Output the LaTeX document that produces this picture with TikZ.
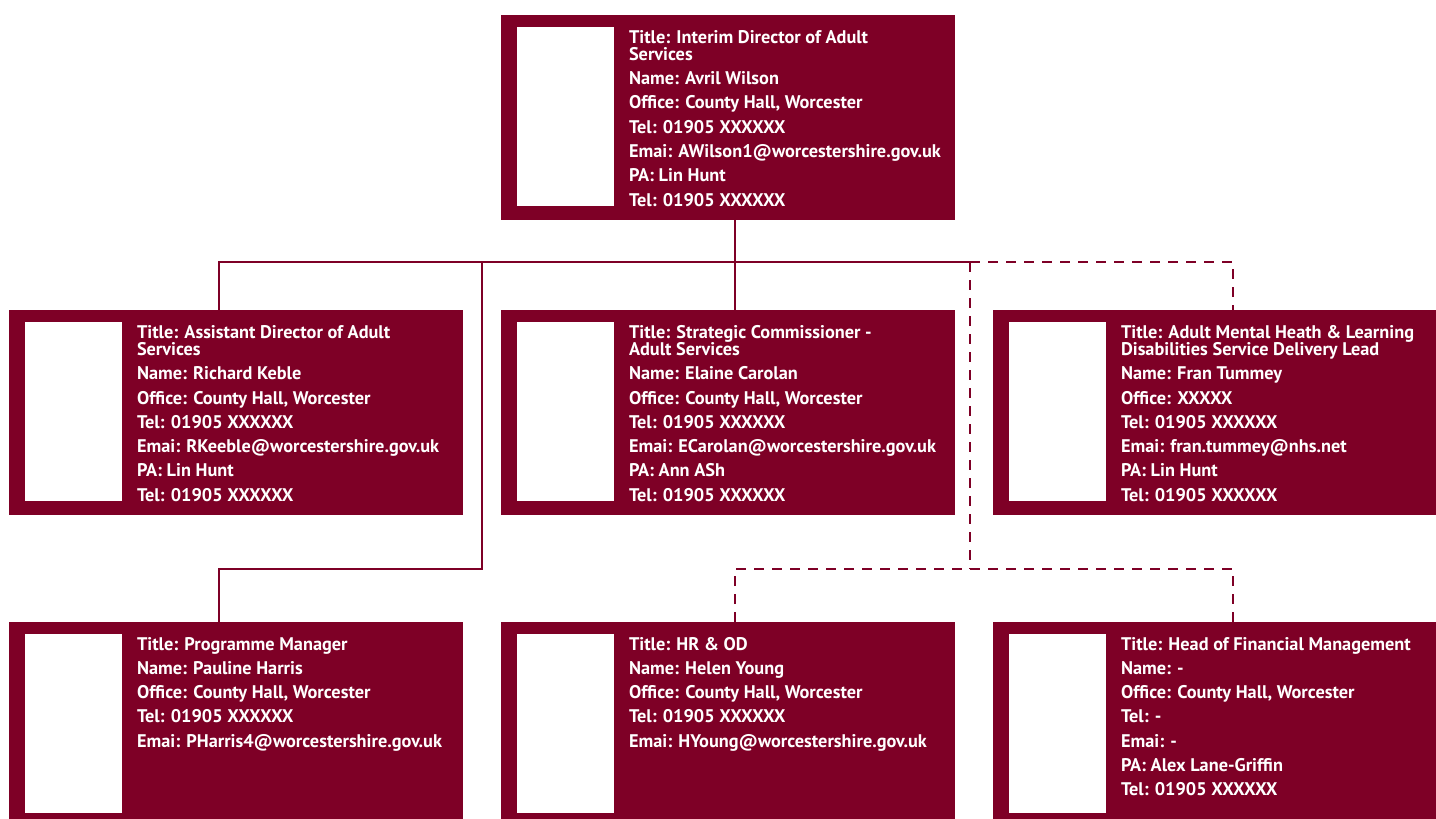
\documentclass[tikz,border=0pt]{standalone}
\usepackage{fontspec}
\setmainfont{PT Sans}
\definecolor{wine}{RGB}{126,0,38}
\newcommand\crow[1]{\hbox{#1}}
\newcommand\cwrap{\vskip-6.9pt}
\newcommand\cardtext[1]{\vtop{\baselineskip=24.3pt\lineskiplimit=-100pt\lineskip=0pt #1}}
\tikzset{
  card/.style={fill=wine, draw=none, anchor=north west, minimum width=454pt, minimum height=205pt, inner sep=0pt, outer sep=0pt},
  photo/.style={fill=white, draw=none, anchor=north west, minimum width=97pt, minimum height=179pt, inner sep=0pt, outer sep=0pt},
  txt/.style={text=white, anchor=base west, inner sep=0pt, outer sep=0pt, font=\bfseries\fontsize{18.3}{18.3}\selectfont},
  conn/.style={draw=wine, line width=2.5pt},
  dconn/.style={draw=wine, line width=2.7pt, dash pattern=on 10pt off 8pt},
}
\newcommand\card[4]{%
  \node[card] (#1) at (#2,#3) {};
  \node[photo] (#1p) at (#2+16,#3+12) {};
  \node[txt] (#1t) at (#2+128,#3+28) {\cardtext{#4}};
}
\begin{document}
\begin{tikzpicture}[x=1pt,y=-1pt]
\useasboundingbox (0,0) rectangle (1436,819);
\card{t}{501}{15}{\crow{Title: Interim Director of Adult}\cwrap\crow{Services}\crow{Name: Avril Wilson}\crow{Office: County Hall, Worcester}\crow{Tel: 01905 XXXXXX}\crow{Emai: AWilson1@worcestershire.gov.uk}\crow{PA: Lin Hunt}\crow{Tel: 01905 XXXXXX}}
\card{a}{9}{310}{\crow{Title: Assistant Director of Adult}\cwrap\crow{Services}\crow{Name: Richard Keble}\crow{Office: County Hall, Worcester}\crow{Tel: 01905 XXXXXX}\crow{Emai: RKeeble@worcestershire.gov.uk}\crow{PA: Lin Hunt}\crow{Tel: 01905 XXXXXX}}
\card{b}{501}{310}{\crow{Title: Strategic Commissioner -}\cwrap\crow{Adult Services}\crow{Name: Elaine Carolan}\crow{Office: County Hall, Worcester}\crow{Tel: 01905 XXXXXX}\crow{Emai: ECarolan@worcestershire.gov.uk}\crow{PA: Ann ASh}\crow{Tel: 01905 XXXXXX}}
\card{c}{993}{310}{\crow{Title: Adult Mental Heath \& Learning}\cwrap\crow{Disabilities Service Delivery Lead}\crow{Name: Fran Tummey}\crow{Office: XXXXX}\crow{Tel: 01905 XXXXXX}\crow{Emai: fran.tummey@nhs.net}\crow{PA: Lin Hunt}\crow{Tel: 01905 XXXXXX}}
\card{d}{9}{622}{\crow{Title: Programme Manager}\crow{Name: Pauline Harris}\crow{Office: County Hall, Worcester}\crow{Tel: 01905 XXXXXX}\crow{Emai: PHarris4@worcestershire.gov.uk}}
\card{e}{501}{622}{\crow{Title: HR \& OD}\crow{Name: Helen Young}\crow{Office: County Hall, Worcester}\crow{Tel: 01905 XXXXXX}\crow{Emai: HYoung@worcestershire.gov.uk}}
\card{f}{993}{622}{\crow{Title: Head of Financial Management}\crow{Name: -}\crow{Office: County Hall, Worcester}\crow{Tel: -}\crow{Emai: -}\crow{PA: Alex Lane-Griffin}\crow{Tel: 01905 XXXXXX}}
\coordinate (j) at (970,262);
\coordinate (k) at (482,262);
\coordinate (k2) at (482,569);
\coordinate (m) at (970,569);
\draw[conn] ([xshift=234pt]t.south west) -- ([xshift=234pt]b.north west);
\draw[conn] ([xshift=210pt]a.north west) |- (j);
\draw[conn] (k) -- (k2) -| ([xshift=210pt]d.north west);
\draw[dconn] (j) -| ([xshift=240pt]c.north west);
\draw[dconn] (j) -- (m);
\draw[dconn] ([xshift=234pt]e.north west) |- (m) -| ([xshift=240pt]f.north west);
\end{tikzpicture}
\end{document}
